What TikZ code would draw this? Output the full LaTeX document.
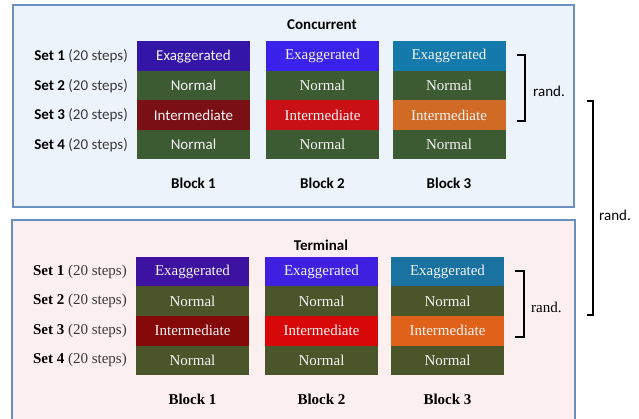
\documentclass[tikz,border=0pt]{standalone}
\usepackage{fontspec}
\newfontfamily\tnr{Liberation Serif}
\newfontfamily\calib{Carlito}
\definecolor{boxCfill}{HTML}{EDF3FA}
\definecolor{boxTfill}{HTML}{FCEFEF}
\definecolor{boxline}{HTML}{6B90BF}
\definecolor{cExA}{HTML}{3316A8}
\definecolor{cExB}{HTML}{3A22EA}
\definecolor{cExC}{HTML}{1479AB}
\definecolor{cNo}{HTML}{3C5B33}
\definecolor{cInA}{HTML}{7A1015}
\definecolor{cInB}{HTML}{C91016}
\definecolor{cInC}{HTML}{D06A25}
\definecolor{tExA}{HTML}{3E12A0}
\definecolor{tExB}{HTML}{4020E0}
\definecolor{tExC}{HTML}{1A72A0}
\definecolor{tNo}{HTML}{4A552A}
\definecolor{tInA}{HTML}{850808}
\definecolor{tInB}{HTML}{D80808}
\definecolor{tInC}{HTML}{E0621A}
\definecolor{greytext}{HTML}{3A3A3A}
\newcommand\calfont{\calib\fontsize{15}{18}\selectfont}
\newcommand\serfont{\tnr\fontsize{15}{18}\selectfont}
\tikzset{
  cell/.style={minimum width=113pt, minimum height=29.5pt, inner sep=0pt, text=white!92!gray, fill=#1},
  calcell/.style={cell=#1, font=\calfont},
  sercell/.style={cell=#1, font=\serfont},
  calset/.style={anchor=east, inner sep=0pt, font=\calfont},
  serset/.style={anchor=east, inner sep=0pt, font=\serfont},
  calblock/.style={inner sep=0pt, font=\calfont\bfseries},
  serblock/.style={inner sep=0pt, font=\serfont\bfseries},
  caltxt/.style={inner sep=0pt, anchor=west, font=\calfont},
  sertxt/.style={inner sep=0pt, anchor=west, font=\serfont},
  bracket/.style={line width=2.2pt, line join=miter, draw=black},
  sectionbox/.style={draw=boxline, line width=1.2pt, fill=#1}
}
\begin{document}
\begin{tikzpicture}[x=1pt,y=-1pt]
\useasboundingbox (0,0) rectangle (639,419);
\clip (0,0) rectangle (639,419);
\draw[sectionbox=boxCfill] (13,5) rectangle (574,207);
\draw[sectionbox=boxTfill] (12,220) rectangle (575,440);

% ---------- Concurrent ----------
\node[calblock] (ctitle) at (322,25) {Concurrent};
\node[calset] (cs1) at (128,56.25) {\textbf{Set 1} \textcolor{greytext}{(20 steps)}};
\node[calset] (cs2) at (128,85.75) {\textbf{Set 2} \textcolor{greytext}{(20 steps)}};
\node[calset] (cs3) at (128,115.25) {\textbf{Set 3} \textcolor{greytext}{(20 steps)}};
\node[calset] (cs4) at (128,144.75) {\textbf{Set 4} \textcolor{greytext}{(20 steps)}};

\node[calcell=cExA] (c11) at (193.5,56.25) {Exaggerated};
\node[calcell=cNo]  (c12) at (193.5,85.75) {Normal};
\node[calcell=cInA] (c13) at (193.5,115.25) {Intermediate};
\node[calcell=cNo]  (c14) at (193.5,144.75) {Normal};

\node[sercell=cExB] (c21) at (322.5,56.25) {Exaggerated};
\node[sercell=cNo]  (c22) at (322.5,85.75) {Normal};
\node[sercell=cInB] (c23) at (322.5,115.25) {Intermediate};
\node[sercell=cNo]  (c24) at (322.5,144.75) {Normal};

\node[sercell=cExC] (c31) at (449,56.25) {Exaggerated};
\node[sercell=cNo]  (c32) at (449,85.75) {Normal};
\node[sercell=cInC] (c33) at (449,115.25) {Intermediate};
\node[sercell=cNo]  (c34) at (449,144.75) {Normal};

\node[calblock] (cb1) at (193.5,183) {Block 1};
\node[calblock] (cb2) at (322.5,183) {Block 2};
\node[calblock] (cb3) at (449,183) {Block 3};

\coordinate (cbr1) at (517,55);
\coordinate (cbr2) at (517,121);
\draw[bracket] (cbr1) -- ++(8,0) |- (cbr2);
\node[caltxt] (crand) at (533,91) {rand.};

% ---------- Terminal ----------
\node[calblock] (ttitle) at (321,245) {Terminal};
\node[serset] (ts1) at (127,271.75) {\textbf{Set 1} \textcolor{greytext}{(20 steps)}};
\node[serset] (ts2) at (127,301.25) {\textbf{Set 2} \textcolor{greytext}{(20 steps)}};
\node[serset] (ts3) at (127,330.75) {\textbf{Set 3} \textcolor{greytext}{(20 steps)}};
\node[serset] (ts4) at (127,360.25) {\textbf{Set 4} \textcolor{greytext}{(20 steps)}};

\node[sercell=tExA] (t11) at (192.5,271.75) {Exaggerated};
\node[sercell=tNo]  (t12) at (192.5,301.25) {Normal};
\node[sercell=tInA] (t13) at (192.5,330.75) {Intermediate};
\node[sercell=tNo]  (t14) at (192.5,360.25) {Normal};

\node[sercell=tExB] (t21) at (321.5,271.75) {Exaggerated};
\node[sercell=tNo]  (t22) at (321.5,301.25) {Normal};
\node[sercell=tInB] (t23) at (321.5,330.75) {Intermediate};
\node[sercell=tNo]  (t24) at (321.5,360.25) {Normal};

\node[sercell=tExC] (t31) at (447.5,271.75) {Exaggerated};
\node[sercell=tNo]  (t32) at (447.5,301.25) {Normal};
\node[sercell=tInC] (t33) at (447.5,330.75) {Intermediate};
\node[sercell=tNo]  (t34) at (447.5,360.25) {Normal};

\node[serblock] (tb1) at (192.5,399) {Block 1};
\node[serblock] (tb2) at (321.5,399) {Block 2};
\node[serblock] (tb3) at (447.5,399) {Block 3};

\coordinate (tbr1) at (515,271);
\coordinate (tbr2) at (515,337);
\draw[bracket] (tbr1) -- ++(9,0) |- (tbr2);
\node[sertxt] (trand) at (531,307) {rand.};

% ---------- overall ----------
\coordinate (abr1) at (587,101);
\coordinate (abr2) at (587,315);
\draw[bracket] (abr1) -- ++(6,0) |- (abr2);
\node[caltxt] (arand) at (599,215) {rand.};
\end{tikzpicture}
\end{document}
